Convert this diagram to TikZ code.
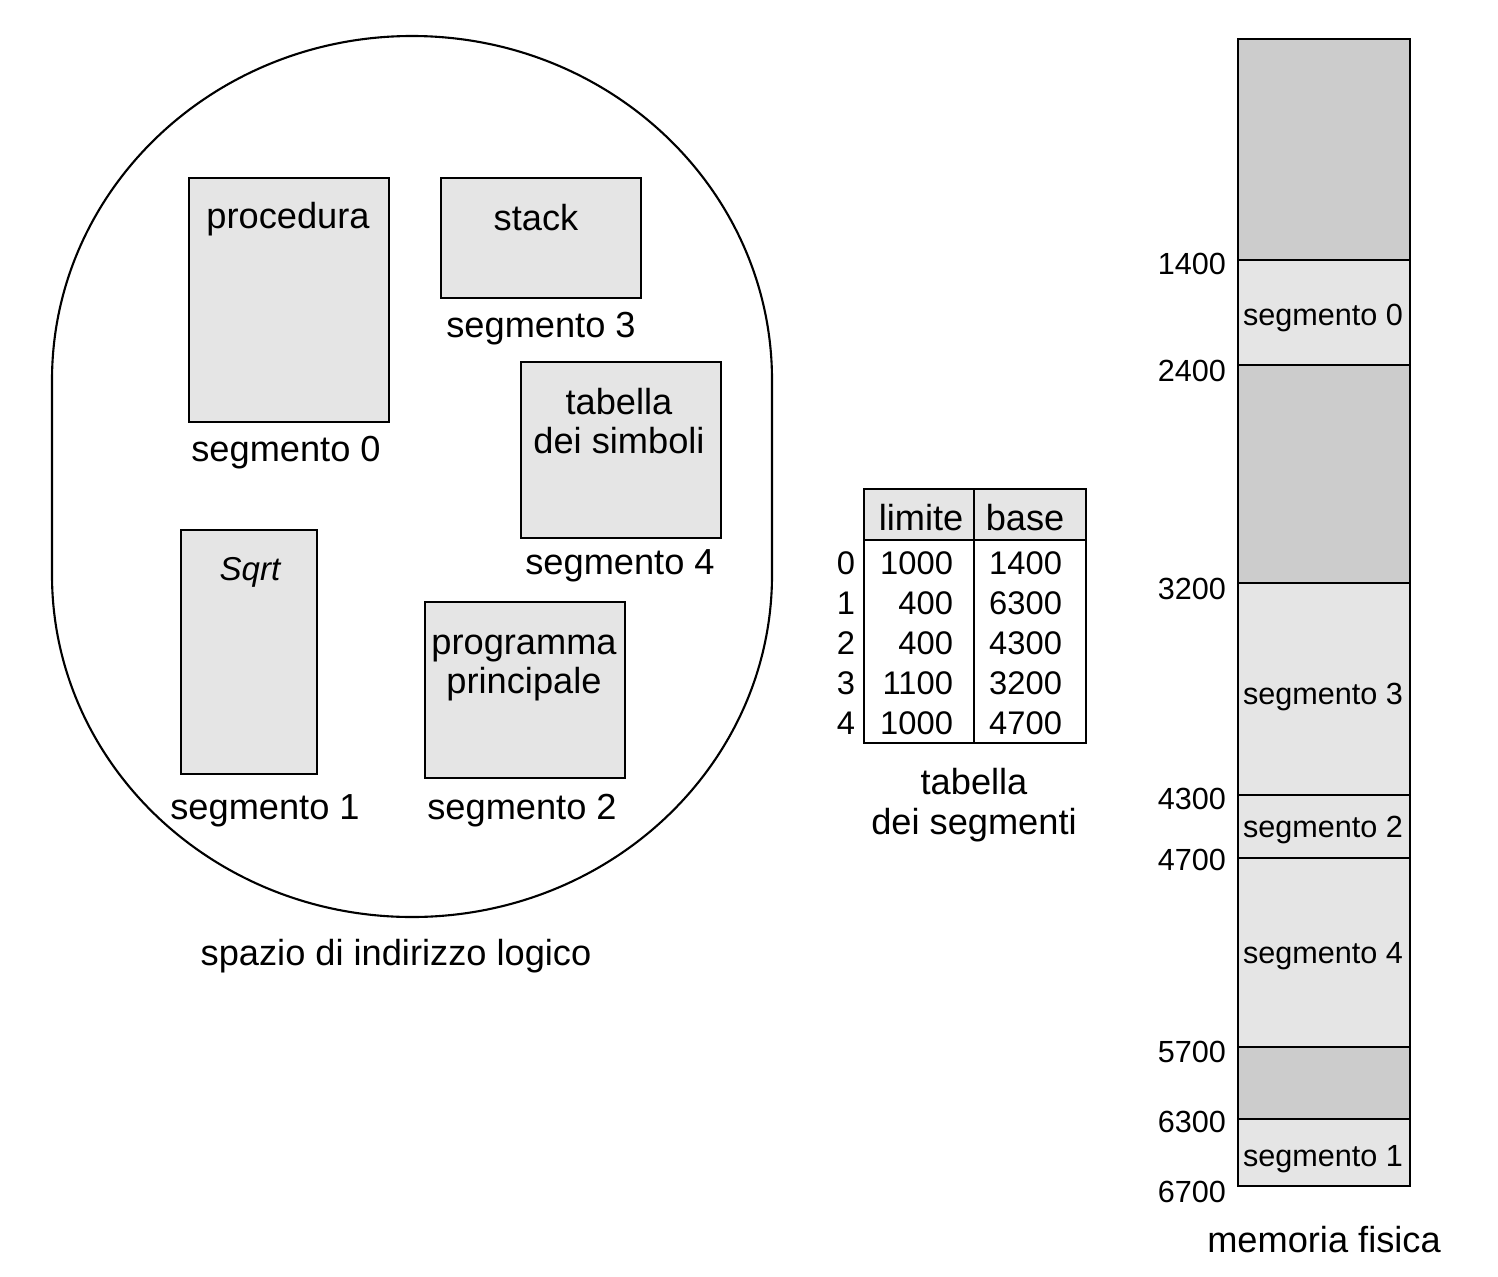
\documentclass[tikz,border=0pt]{standalone}
\usepackage{fontspec}
\setmainfont{Liberation Sans}
\definecolor{segfill}{gray}{0.9}
\definecolor{freefill}{gray}{0.8}
\begin{document}
\begin{tikzpicture}[x=0.01cm,y=-0.01cm,line width=0.6pt,
  segbox/.style={draw=black,fill=segfill,anchor=north west,inner sep=0pt},
  big/.style={font=\fontsize{10.3}{11.3}\selectfont,inner sep=0pt,align=center,yshift=-0.03cm},
  num/.style={font=\fontsize{9.3}{11}\selectfont,inner sep=0pt,yshift=-0.02cm},
  small/.style={font=\fontsize{8.7}{10}\selectfont,inner sep=0pt,yshift=-0.02cm}]
\useasboundingbox (0,0) rectangle (1498,1276);

% logical address space outline
\draw (52,575) -- (52,380)
  arc[start angle=180,end angle=360,x radius=360,y radius=344]
  -- (772,575)
  arc[start angle=0,end angle=180,x radius=360,y radius=342] -- cycle;

% segments of the logical address space
\node (proc) [segbox,minimum width=2cm,minimum height=2.44cm] at (188,177) {};
\node (stack) [segbox,minimum width=2cm,minimum height=1.2cm] at (440,177) {};
\node (simb) [segbox,minimum width=2cm,minimum height=1.76cm] at (520,361) {};
\node (sqrt) [segbox,minimum width=1.36cm,minimum height=2.44cm] at (180,529) {};
\node (main) [segbox,minimum width=2cm,minimum height=1.76cm] at (424,601) {};

\node (procT) [big] at (288,216) {procedura};
\node (stackT) [big] at (536,215) {stack};
\node (simbT) [big] at (619,418) {tabella\\dei simboli};
\node (sqrtT) [num,font=\fontsize{9.4}{11}\selectfont\itshape] at (250,570) {Sqrt};
\node (mainT) [big] at (524,665) {programma\\principale};

\node (procL) [big] at (286,450) {segmento 0};
\node (stackL) [big] at (541,326) {segmento 3};
\node (simbL) [big] at (620,563) {segmento 4};
\node (sqrtL) [big] at (265,808) {segmento 1};
\node (mainL) [big] at (522,808) {segmento 2};
\node (spazio) [big] at (396,953) {spazio di indirizzo logico};

% segment table
\fill[segfill] (864,489) rectangle (1086,540);
\draw (864,489) rectangle (1086,743);
\draw (864,540) -- (1086,540);
\draw (974,489) -- (974,743);
\node (hlim) [big] at (921,515) {limite};
\node (hbase) [big] at (1025,515) {base};
\foreach \i/\lim/\bas/\y in {0/1000/1400/561,1/400/6300/601,2/400/4300/641,3/1100/3200/681,4/1000/4700/721}{
  \node (idx\i) [num] at (846,\y) {\i};
  \node (lim\i) [num,anchor=east] at (954,\y) {\lim};
  \node (bas\i) [num,anchor=east] at (1063,\y) {\bas};
}
\node (tabT) [big] at (974,802) {tabella\\dei segmenti};

% physical memory
\fill[freefill] (1238,39) rectangle (1410,260);
\fill[segfill] (1238,260) rectangle (1410,365);
\fill[freefill] (1238,365) rectangle (1410,583);
\fill[segfill] (1238,583) rectangle (1410,1047);
\fill[freefill] (1238,1047) rectangle (1410,1119);
\fill[segfill] (1238,1119) rectangle (1410,1186);
\draw (1238,39) rectangle (1410,1186);
\foreach \y in {260,365,583,795,858,1047,1119}{\draw (1238,\y) -- (1410,\y);}
\foreach \v/\y in {1400/262,2400/369,3200/587,4300/797,4700/858,5700/1050,6300/1120,6700/1190}{
  \node (a\v) [small,anchor=east] at (1227,\y) {\v};
}
\node (m0) [small] at (1323,316) {segmento 0};
\node (m3) [small] at (1323,695) {segmento 3};
\node (m2) [small] at (1323,828) {segmento 2};
\node (m4) [small] at (1323,954) {segmento 4};
\node (m1) [small] at (1323,1157) {segmento 1};
\node (memT) [big] at (1324,1237) {memoria fisica};
\end{tikzpicture}
\end{document}
